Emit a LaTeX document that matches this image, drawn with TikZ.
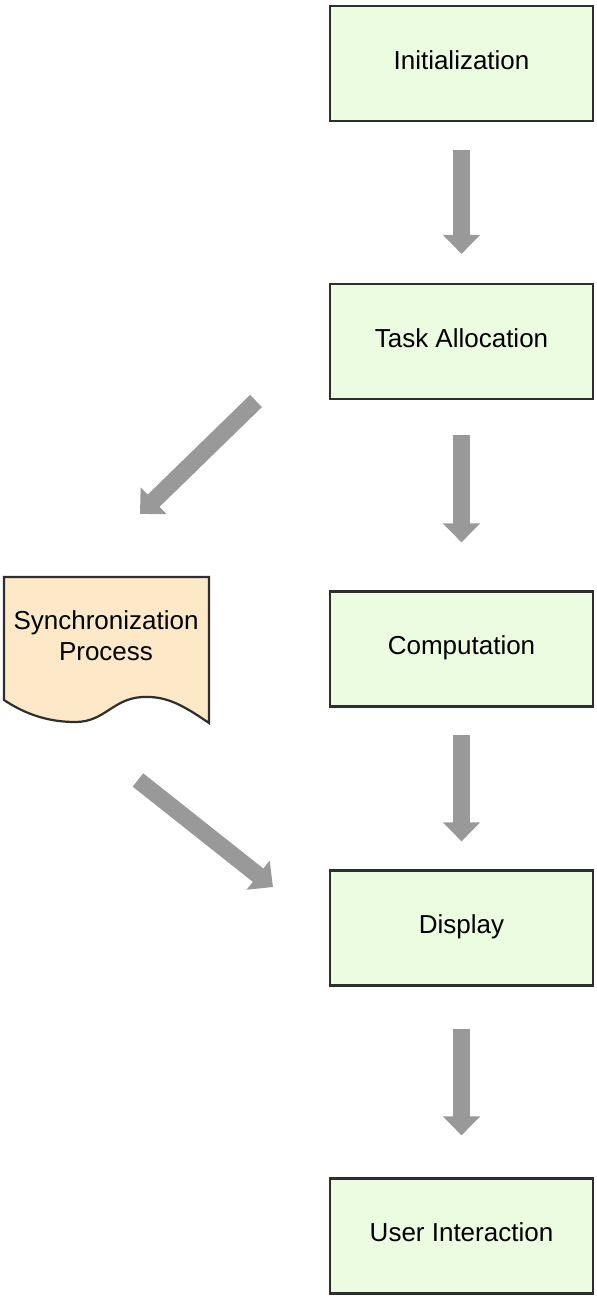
\documentclass[tikz,border=0pt]{standalone}
\usepackage{fontspec}
\setmainfont{Liberation Sans}
\usetikzlibrary{arrows.meta}
\definecolor{boxfill}{HTML}{EBFCE0}
\definecolor{docfill}{HTML}{FDE8C8}
\definecolor{arrgray}{HTML}{999999}
\definecolor{edge}{HTML}{2E2E2E}
\begin{document}
\begin{tikzpicture}[x=1pt,y=-1pt,
  stepbox/.style={draw=edge,line width=2.2pt,fill=boxfill,minimum width=263pt,minimum height=115pt,inner sep=0pt,
    text height=19pt,text depth=7.4pt,font=\fontsize{26}{31}\selectfont},
  bigarrow/.style={draw=arrgray,line width=17pt,-{Triangle[width=36pt,length=19pt]}}]
\useasboundingbox (0,0) rectangle (597,1299);
\node[stepbox] (init) at (461.5,63.5) {Initialization};
\node[stepbox] (task) at (461.5,341.5) {Task Allocation};
\node[stepbox] (comp) at (461.5,649) {Computation};
\node[stepbox] (disp) at (461.5,928) {Display};
\node[stepbox] (user) at (461.5,1236) {User Interaction};
% document shape
\draw[draw=edge,line width=2.2pt,fill=docfill] (4,577) -- (209,577) -- (209,723)
  .. controls (180,703) and (165,696) .. (142,697)
  .. controls (112,699) and (105,722) .. (75,722)
  .. controls (45,722) and (22,712) .. (4,700) -- cycle;
\node[align=center,font=\fontsize{26}{31}\selectfont] (sync) at (106,636) {Synchronization\\Process};
\coordinate (d1s) at (256,401);
\coordinate (d1e) at (140,514);
\coordinate (d2s) at (138,780);
\coordinate (d2e) at (273,887);
\draw[bigarrow,shorten <=28pt,shorten >=29pt] (init) -- (task);
\draw[bigarrow,shorten <=35pt,shorten >=48pt] (task) -- (comp);
\draw[bigarrow,shorten <=27pt,shorten >=28pt] (comp) -- (disp);
\draw[bigarrow,shorten <=42pt,shorten >=42pt] (disp) -- (user);
\draw[bigarrow] (d1s) -- (d1e);
\draw[bigarrow] (d2s) -- (d2e);
\end{tikzpicture}
\end{document}
